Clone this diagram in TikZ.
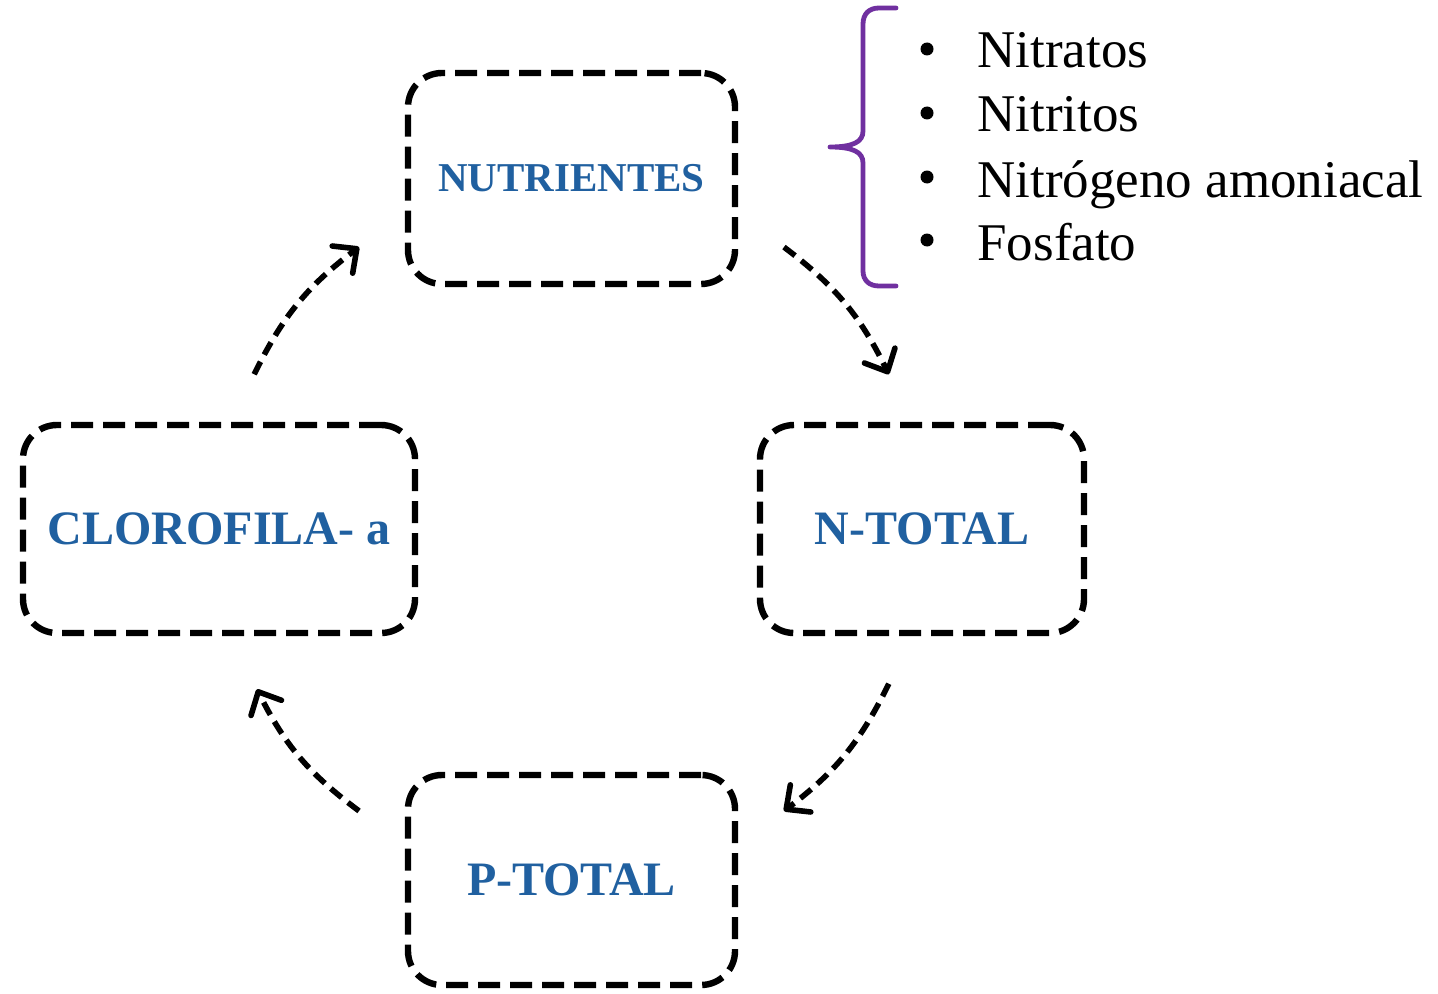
\documentclass[tikz,border=0pt]{standalone}
\usepackage{fontspec}
\setmainfont{Liberation Serif}
\usetikzlibrary{arrows.meta,calc}
\definecolor{labelblue}{RGB}{32,96,160}
\definecolor{bracepurple}{RGB}{112,48,160}
\tikzset{
  stagebox/.style={draw=black, line width=3.2pt, dash pattern=on 11pt off 5pt,
    rounded corners=17pt, fill=white, inner sep=0pt,
    text=labelblue, font=\bfseries\fontsize{24}{28}\selectfont},
  flowarrow/.style={line width=2.8pt, dash pattern=on 7pt off 4pt,
    -{Straight Barb[length=9pt,width=17pt,line cap=round,line join=round]}},
  listitem/.style={anchor=base west, inner sep=0pt, font=\fontsize{26.5}{30}\selectfont},
  listdot/.style={circle, fill=black, inner sep=0pt, minimum size=6.5pt},
}
\begin{document}
\begin{tikzpicture}[x=0.5pt,y=0.5pt]
  \useasboundingbox (0,0) rectangle (1438,993);

  % the four stages of the cycle
  \node[stagebox, minimum width=163.5pt, minimum height=105.5pt,
        font=\bfseries\fontsize{20.5}{24}\selectfont] (nut) at (571.5,814.5) {NUTRIENTES};
  \node[stagebox, minimum width=162pt, minimum height=104pt] (ntot) at (922,464) {N-TOTAL};
  \node[stagebox, minimum width=163.5pt, minimum height=105pt] (ptot) at (571.5,113) {P-TOTAL};
  \node[stagebox, minimum width=196pt, minimum height=104pt] (clo) at (219,464) {CLOROFILA- a};

  % arrow ends lie on one circle round the middle of the cycle
  \coordinate (mid) at (571.5,464);
  \coordinate (a1s) at ($(mid)+(53:353)$);
  \coordinate (a1e) at ($(mid)+(26:353)$);
  \coordinate (a2s) at ($(mid)+(-26:353)$);
  \coordinate (a2e) at ($(mid)+(-53:353)$);
  \coordinate (a3s) at ($(mid)+(-127:353)$);
  \coordinate (a3e) at ($(mid)+(-153:353)$);
  \coordinate (a4s) at ($(mid)+(154:353)$);
  \coordinate (a4e) at ($(mid)+(127:353)$);

  \draw[flowarrow] (a1s) to[bend left=13.5] (a1e);
  \draw[flowarrow] (a2s) to[bend left=13.5] (a2e);
  \draw[flowarrow] (a3s) to[bend left=13.5] (a3e);
  \draw[flowarrow] (a4s) to[bend left=13.5] (a4e);

  % brace grouping the nutrient list
  \draw[bracepurple, line width=2.4pt, line cap=round, line join=round]
    (896,985) -- (879,985) .. controls (869,985) and (863,979) .. (863,969)
    -- (863,862) .. controls (863,851) and (853,846) .. (830,846)
    .. controls (853,846) and (863,841) .. (863,830)
    -- (863,722) .. controls (863,713) and (869,707) .. (879,707) -- (896,707);

  % nutrient list
  \node[listdot] (b1) at (927,944) {};
  \node[listdot] (b2) at (927,880) {};
  \node[listdot] (b3) at (927,816) {};
  \node[listdot] (b4) at (927,753) {};
  \node[listitem] (l1) at (977,925) {Nitratos};
  \node[listitem] (l2) at (977,861) {Nitritos};
  \node[listitem] (l3) at (977,796) {Nitrógeno amoniacal};
  \node[listitem] (l4) at (977,733) {Fosfato};
\end{tikzpicture}
\end{document}
